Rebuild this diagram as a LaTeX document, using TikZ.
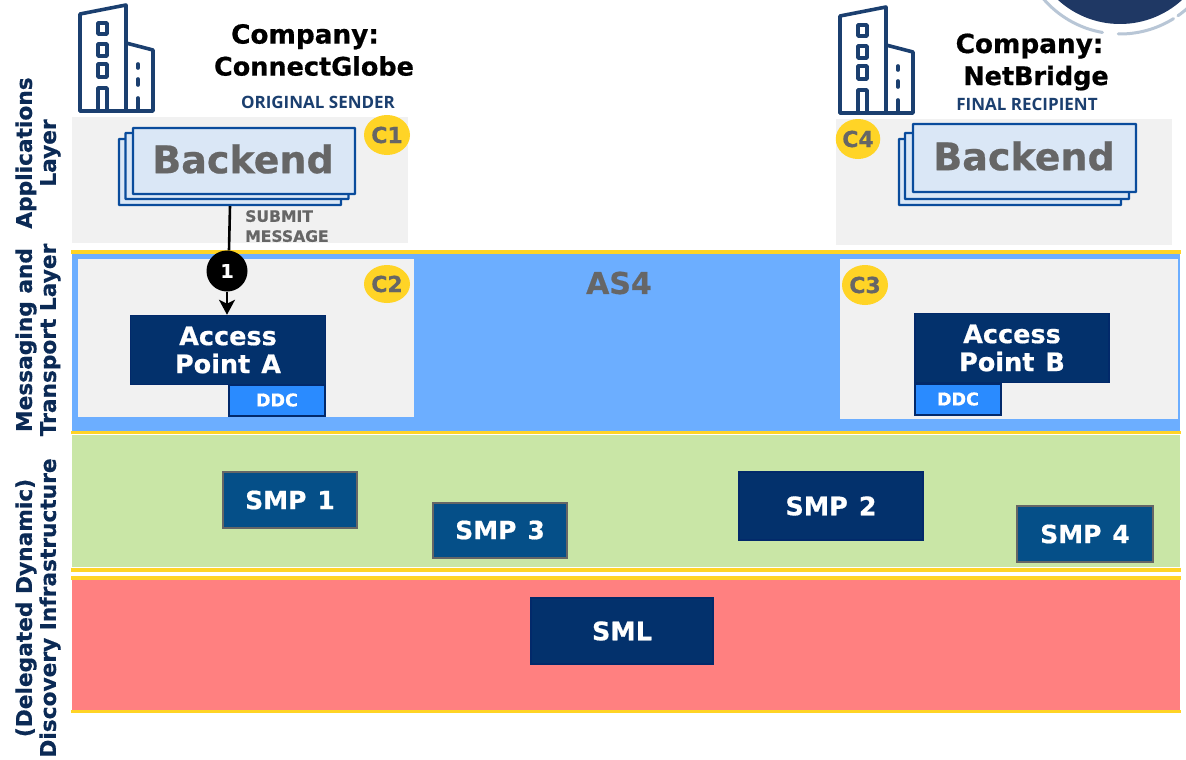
\documentclass[tikz,border=0pt]{standalone}
\usepackage{fontspec}
\setmainfont{DejaVu Sans}[BoldFeatures={FakeBold=0.6}]
\newfontfamily\capsfont{Open Sans}
\definecolor{navy}{HTML}{03316C}
\definecolor{navyedge}{HTML}{02296A}
\definecolor{lblue}{HTML}{1B3F6F}
\definecolor{sealblue}{HTML}{1F3864}
\definecolor{ringgrey}{HTML}{B8C6D6}
\definecolor{smpblue}{HTML}{054F88}
\definecolor{ddcblue}{HTML}{2A8BFF}
\definecolor{bandblue}{HTML}{6CAEFF}
\definecolor{bandgreen}{HTML}{C9E6A6}
\definecolor{bandred}{HTML}{FF8080}
\definecolor{panel}{HTML}{F1F1F1}
\definecolor{gold}{HTML}{FFD426}
\definecolor{greytxt}{HTML}{666666}
\definecolor{backfill}{HTML}{DAE7F6}
\definecolor{backline}{HTML}{0A4C9C}
\definecolor{leftlbl}{HTML}{0B2A55}
\usetikzlibrary{shapes.geometric,arrows.meta}
\tikzset{
 x=1pt,y=-1pt,
 goldline/.style={draw=gold,line width=3.5pt},
 layerlbl/.style={rotate=90,align=center,font=\bfseries\fontsize{21.7}{24}\selectfont,text=leftlbl,inner sep=0pt},
 navybox/.style={fill=navy,draw=navyedge,line width=1.5pt,text=white,align=center,font=\bfseries\fontsize{25.5}{28}\selectfont,inner sep=0pt},
 smpbox/.style={fill=smpblue,draw=greytxt,line width=2pt,text=white,font=\bfseries\fontsize{25}{28}\selectfont,inner sep=0pt},
 ddcbox/.style={fill=ddcblue,draw=navyedge,line width=2pt,text=white,font=\bfseries\fontsize{17.5}{20}\selectfont,inner sep=0pt},
 cbadge/.style={ellipse,fill=gold,text=greytxt,font=\bfseries\fontsize{22}{24}\selectfont,inner sep=0pt},
 backcard/.style={fill=backfill,draw=backline,line width=2.2pt,inner sep=0pt,rounded corners=0.5pt},
 bldg/.style={draw=lblue,line width=3.6pt,line join=round,line cap=round},
 companytxt/.style={font=\bfseries\fontsize{25.5}{32}\selectfont,align=center,text=black,inner sep=0pt},
 roletxt/.style={font=\capsfont\bfseries\fontsize{17}{20}\selectfont,text=lblue,inner sep=0pt},
 backtxt/.style={font=\bfseries\fontsize{38}{40}\selectfont,text=greytxt,inner sep=0pt},
 cardsize/.style={minimum width=#1,minimum height=66pt},
}
\newcommand{\bldgicon}[2]{%
\begin{scope}[shift={(#1,#2)}]
 \draw[bldg] (0,111) -- (0,14) -- (46,5) -- (46,111);
 \draw[bldg] (46,43) -- (73,50) -- (73,111) -- (0,111);
 \draw[bldg] (18,23) rectangle (27,34);
 \draw[bldg] (18,44) rectangle (27,56);
 \draw[bldg] (18,64) rectangle (27,77);
 \draw[bldg] (18,111) -- (18,88) -- (27,88) -- (27,111);
 \draw[bldg] (58,64) -- (58,68);
 \draw[bldg] (58,79) -- (58,85);
 \draw[bldg] (58,98) -- (58,111);
\end{scope}}
\begin{document}
\begin{tikzpicture}
\useasboundingbox (0,0) rectangle (1186,760);
\fill[white] (0,0) rectangle (1186,760);
% seal
\begin{scope}
 \clip (0,0) rectangle (1186,760);
 \fill[sealblue] (1120,-68) circle (92);
 \draw[ringgrey,line width=3pt,line cap=round] (1120,-67) ++(140:101) arc (140:100:101);
 \draw[ringgrey,line width=3pt,line cap=round] (1120,-67) ++(91:101) arc (91:58:101);
 \draw[ringgrey,line width=3pt,line cap=round] (1120,-67) ++(55:101) arc (55:40:101);
\end{scope}
% bands
\fill[panel] (72,117) rectangle (408,243);
\fill[panel] (836,119) rectangle (1172,245);
\fill[bandblue] (72,252) rectangle (1180,432);
\fill[bandgreen] (72,435) rectangle (1180,567);
\fill[bandred] (72,579) rectangle (1180,711);
\fill[panel] (78,259) rectangle (414,417);
\fill[panel] (840,259) rectangle (1178,419);
\coordinate (g1l) at (71,252); \coordinate (g1r) at (1181,252);
\coordinate (g2l) at (71,432.7); \coordinate (g2r) at (1181,432.7);
\coordinate (g3l) at (71,570); \coordinate (g3r) at (1181,570);
\coordinate (g4l) at (71,578); \coordinate (g4r) at (1181,578);
\coordinate (g5l) at (71,711.5); \coordinate (g5r) at (1181,711.5);
\draw[goldline] (g1l) -- (g1r);
\draw[goldline] (g2l) -- (g2r);
\draw[goldline] (g3l) -- (g3r);
\draw[goldline] (g4l) -- (g4r);
\draw[goldline] (g5l) -- (g5r);
% left labels
\node[layerlbl] (lapp) at (38,153) {Applications\\Layer};
\node[layerlbl] (lmsg) at (38,340) {Messaging and\\Transport Layer};
\node[layerlbl] (ldisc) at (38,608) {(Delegated Dynamic)\\Discovery Infrastructure};
% buildings
\bldgicon{80}{0}
\bldgicon{840}{2}
% company
\node[companytxt] (co1) at (314,50) {\hspace*{-18pt}{\fontsize{26.3}{32}\selectfont Company:}\\ConnectGlobe};
\node[companytxt] (co2) at (1036,62) {\hspace*{-13pt}{\fontsize{26.3}{32}\selectfont Company:}\\NetBridge};
\node[roletxt] (r1) at (318,102) {ORIGINAL SENDER};
\node[roletxt] (r2) at (1027,104) {FINAL RECIPIENT};
% backends
\node[backcard,cardsize=222pt] (be1c) at (230,172) {};
\node[backcard,cardsize=223pt] (be1b) at (237,166) {};
\node[backcard,cardsize=222pt] (be1) at (244,161) {};
\node[backtxt] (be1t) at (243,159) {Backend};
\node[backcard,cardsize=222pt] (be2c) at (1010,172) {};
\node[backcard,cardsize=224pt] (be2b) at (1017,166) {};
\node[backcard,cardsize=223pt,minimum height=68pt] (be2) at (1024.5,158) {};
\node[backtxt] (be2t) at (1024,156) {Backend};
% access points
\node[navybox,minimum width=195pt,minimum height=69pt] (apa) at (228,350) {Access\\Point\hspace{11pt}A};
\node[navybox,minimum width=194pt,minimum height=69pt] (apb) at (1012,348) {Access\\Point\hspace{11pt}B};
\node[ddcbox,minimum width=96pt,minimum height=31pt] (ddca) at (277,400) {DDC};
\node[ddcbox,minimum width=86pt,minimum height=31pt] (ddcb) at (958,399) {DDC};
% connector
\coordinate (linex) at (230,0);
\coordinate (liney) at (229,0);
\node[circle,fill=black,text=white,minimum size=41pt,inner sep=0pt,font=\bfseries\fontsize{19}{20}\selectfont] (n1) at (227,271) {1};
\draw[black,line width=2.6pt] (be1c.south -| linex) -- (n1.north -| liney);
\draw[black,line width=2.4pt,-{Stealth[length=15pt,width=16pt,inset=4pt]}] (n1) -- (apa.north -| n1);
\node[anchor=north west,font=\bfseries\fontsize{15.6}{20}\selectfont,text=greytxt,align=left,inner sep=0pt] (submit) at (245,210) {SUBMIT\\MESSAGE};
% badges
\node[cbadge,minimum width=46pt,minimum height=40pt] (c1) at (387,135) {C1};
\node[cbadge,minimum width=46pt,minimum height=38pt] (c2) at (387,284) {C2};
\node[cbadge,minimum width=46pt,minimum height=40pt] (c3) at (865,285) {C3};
\node[cbadge,minimum width=44pt,minimum height=40pt] (c4) at (858,139) {C4};
\node[font=\bfseries\fontsize{30}{32}\selectfont,text=greytxt,inner sep=0pt] (as4) at (619,283) {AS4};
% SMP
\node[smpbox,minimum width=134pt,minimum height=56pt] (smp1) at (290,500) {SMP\hspace{11pt}1};
\node[smpbox,minimum width=134pt,minimum height=55pt] (smp3) at (500,530) {SMP\hspace{11pt}3};
\node[navybox,minimum width=184pt,minimum height=68pt] (smp2) at (831,506) {SMP\hspace{11pt}2};
\node[smpbox,minimum width=136pt,minimum height=56pt] (smp4) at (1085,534) {SMP\hspace{11pt}4};
\node[navybox,minimum width=182pt,minimum height=66pt] (sml) at (622,631) {SML};
\end{tikzpicture}
\end{document}
